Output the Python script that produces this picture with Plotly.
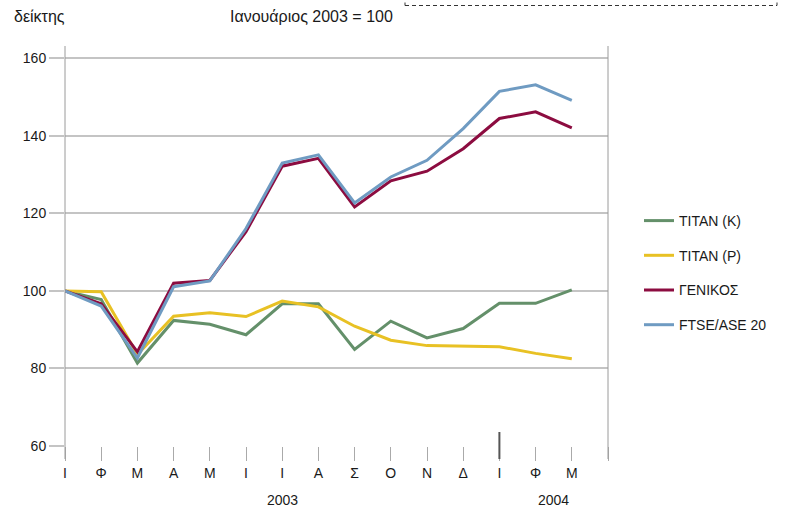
import plotly.graph_objects as go

months = ["Ι", "Φ", "Μ", "Α", "Μ", "Ι", "Ι", "Α", "Σ", "Ο", "Ν", "Δ", "Ι", "Φ", "Μ"]
x_idx = list(range(len(months)))

titan_k = [100, 97.8, 81.4, 92.4, 91.4, 88.7, 96.7, 96.7, 84.9, 92.2, 87.9, 90.3, 96.8, 96.8, 100.3]
titan_p = [100, 99.8, 83.6, 93.5, 94.4, 93.4, 97.4, 95.9, 90.9, 87.3, 85.9, 85.8, 85.6, 83.9, 82.5]
genikos = [100, 96.7, 84.3, 102.0, 102.7, 115.3, 132.2, 134.2, 121.7, 128.4, 130.9, 136.7, 144.5, 146.2, 142.1]
ftse = [100, 96.1, 82.7, 101.1, 102.6, 116.1, 133.0, 135.1, 122.7, 129.4, 133.7, 141.9, 151.5, 153.2, 149.2]

series_names = ["TITAN (K)", "TITAN (P)", "ΓΕΝΙΚΟΣ", "FTSE/ASE 20"]
series_vals = [titan_k, titan_p, genikos, ftse]
colors = ["#64906a", "#e8c124", "#8c0c40", "#6f9bc2"]

y_ticks = [60, 80, 100, 120, 140, 160]
year_labels = ["2003", "2004"]
year_pos = [6, 13.5]

FONT = "Liberation Sans, Arial, Helvetica, sans-serif"
TXT = "#1a1a1a"

fig = go.Figure()
for name, vals, col in zip(series_names, series_vals, colors):
    fig.add_trace(go.Scatter(
        x=x_idx, y=vals, mode="lines", name=name, legendgroup=name,
        line=dict(color=col, width=3), hoverinfo="skip", cliponaxis=False,
    ))

W, H = 789, 508
L, R, T, B = 65, 181, 46, 62
pw = W - L - R
ph = H - T - B

def px(xp):
    return (xp - L) / pw

def py(yp):
    return (H - B - yp) / ph

shapes = []
for xv in [0, 1]:
    shapes.append(dict(type="line", xref="paper", yref="paper", x0=xv, x1=xv,
                       y0=py(459), y1=1, line=dict(color="#9a9a9a", width=1), layer="above"))
shapes.append(dict(type="line", xref="x", yref="paper", x0=12, x1=12,
                   y0=py(459), y1=py(432), line=dict(color="#555555", width=2)))
shapes.append(dict(type="rect", xref="paper", yref="paper", x0=px(405), x1=px(777),
                   y0=py(5.5), y1=py(-30), line=dict(color="#333333", width=1, dash="4px,3px"),
                   fillcolor="rgba(0,0,0,0)"))

annotations = [
    dict(text="δείκτης", xref="paper", yref="paper", x=px(12), y=py(17), xanchor="left",
         yanchor="middle", showarrow=False, font=dict(size=16, color=TXT, family=FONT)),
    dict(text="Ιανουάριος 2003 = 100", xref="paper", yref="paper", x=px(228), y=py(17),
         xanchor="left", yanchor="middle", showarrow=False, font=dict(size=16, color=TXT, family=FONT)),
]
for lab, pos in zip(year_labels, year_pos):
    annotations.append(dict(text=lab, xref="x", yref="paper", x=pos, y=py(500), xanchor="center",
                            yanchor="middle", showarrow=False, font=dict(size=14, color=TXT, family=FONT)))

fig.update_layout(
    width=W, height=H,
    margin=dict(l=L, r=R, t=T, b=B, pad=0),
    paper_bgcolor="white", plot_bgcolor="white",
    font=dict(family=FONT, size=14, color=TXT),
    showlegend=True,
    legend=dict(x=px(639), xanchor="left", y=py(205), yanchor="top",
                font=dict(size=14, color=TXT, family=FONT), tracegroupgap=13.5,
                bgcolor="rgba(0,0,0,0)", itemwidth=30),
    xaxis=dict(range=[0, 15], tickmode="array", tickvals=list(range(16)),
               ticktext=months + [""], ticks="outside", ticklen=14, tickwidth=1,
               tickcolor="#aaaaaa", showgrid=False, zeroline=False, showline=False,
               tickfont=dict(size=14, color=TXT, family=FONT), fixedrange=True),
    yaxis=dict(range=[60, 163.2], tickmode="array", tickvals=y_ticks,
               ticks="outside", ticklen=15, tickwidth=2, tickcolor="#c4c4c4",
               showgrid=True, gridcolor="#c4c4c4", gridwidth=2, zeroline=False,
               showline=False, tickfont=dict(size=14, color=TXT, family=FONT), fixedrange=True),
    shapes=shapes, annotations=annotations,
)

fig.write_html("out.html", config={"displayModeBar": False},
               post_script="document.body.style.margin='0';document.body.style.overflow='hidden';")
